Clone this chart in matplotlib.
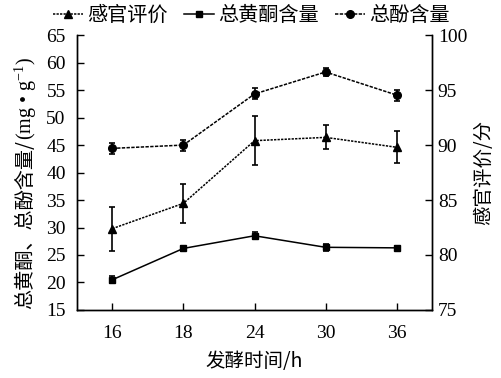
import matplotlib
matplotlib.use("Agg")
import matplotlib.pyplot as plt
from matplotlib.lines import Line2D

# 数据
times = ["16", "18", "24", "30", "36"]
phenol = [44.4, 45.0, 54.3, 58.3, 54.1]
phenol_err = [1.0, 1.0, 1.0, 0.8, 1.0]
flavonoid = [20.5, 26.2, 28.5, 26.4, 26.3]
flavonoid_err = [0.6, 0.5, 0.6, 0.6, 0.4]
sensory = [82.4, 84.7, 90.4, 90.7, 89.8]
sensory_err = [2.0, 1.8, 2.2, 1.1, 1.45]

plt.rcParams["mathtext.fontset"] = "custom"
plt.rcParams["mathtext.rm"] = "Liberation Serif"
plt.rcParams["mathtext.it"] = "Liberation Serif:italic"

cjk = ["Noto Sans CJK SC", "DejaVu Sans"]
num = ["Liberation Serif", "DejaVu Serif"]

ls_dash = (0, (2.2, 0.9))
ls_dot = (0, (1.5, 0.8))

fig = plt.figure(figsize=(5.02, 3.78), dpi=100)
ax = fig.add_axes([0.153, 0.180, 0.708, 0.727])
ax2 = ax.twinx()

x = list(range(len(times)))
ebkw = dict(color="black", ecolor="black", elinewidth=1.2, capsize=2.5, capthick=1.2, lw=1.1)

ax.errorbar(x, flavonoid, yerr=flavonoid_err, marker="s", ms=5, linestyle="-", **ebkw)
ax.errorbar(x, phenol, yerr=phenol_err, marker="o", ms=5.5, linestyle=ls_dash, **ebkw)
ax2.errorbar(x, sensory, yerr=sensory_err, marker="^", ms=6, linestyle=ls_dot, **ebkw)

ax.set_xlim(-0.5, 4.5)
ax.set_ylim(15, 65)
ax.set_yticks(range(15, 66, 5))
ax2.set_ylim(75, 100)
ax2.set_yticks(range(75, 101, 5))
ax.set_xticks(x)
ax.set_xticklabels(times)

for a in (ax, ax2):
    a.tick_params(direction="in", length=5, width=1, labelsize=14, pad=4)
    for lab in a.get_xticklabels() + a.get_yticklabels():
        lab.set_family(num)
    for s in a.spines.values():
        s.set_linewidth(1)
ax.tick_params(axis="x", pad=11)
ax.tick_params(axis="y", pad=8)
ax.spines["top"].set_visible(False)
ax2.spines["top"].set_visible(False)

ax.set_xlabel("发酵时间/h", family=cjk, fontsize=14, labelpad=6)
ax2.set_ylabel("感官评价/分", family=cjk, fontsize=14, rotation=90, labelpad=4)

# 左侧纵轴标题：中文部分 + 单位部分，分两段拼接
y0 = 0.183
lab1 = fig.text(0.052, y0, "总黄酮、总酚含量/", family=cjk, fontsize=14.5, rotation=90,
                rotation_mode="anchor", ha="left", va="center")
fig.canvas.draw()
bb = lab1.get_window_extent()
y1 = y0 + bb.height / fig.bbox.height
fig.text(0.052, y1, "(mg • g$^{-1}$)", family=num, fontsize=14.5, rotation=90,
         rotation_mode="anchor", ha="left", va="center")

handles = [
    Line2D([], [], color="black", marker="^", ms=6, lw=1.1, linestyle=ls_dot),
    Line2D([], [], color="black", marker="s", ms=5, lw=1.1, linestyle="-"),
    Line2D([], [], color="black", marker="o", ms=5.5, lw=1.1, linestyle=ls_dash),
]
fig.legend(handles, ["感官评价", "总黄酮含量", "总酚含量"], loc="upper center",
           bbox_to_anchor=(0.5, 1.035), ncol=3, frameon=False, prop={"family": cjk, "size": 14.5},
           handlelength=1.5, handletextpad=0.2, columnspacing=0.8)

fig.savefig("out.png", dpi=100)
